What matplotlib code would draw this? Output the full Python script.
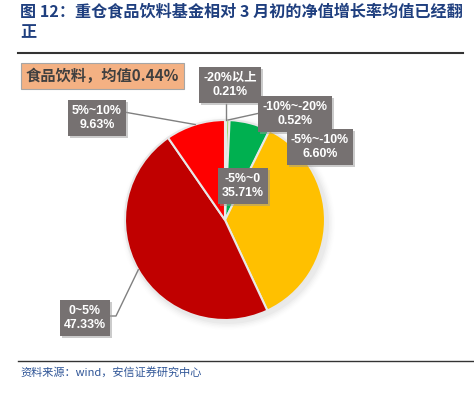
import matplotlib
matplotlib.use("Agg")
import matplotlib.pyplot as plt
import matplotlib.patheffects as pe
import numpy as np

plt.rcParams['font.family'] = ['Noto Sans CJK SC', 'DejaVu Sans']

# ---- data ----
categories = ["-20%以上", "-10%~-20%", "-5%~-10%", "-5%~0", "0~5%", "5%~10%"]
shares = [0.21, 0.52, 6.60, 35.71, 47.33, 9.63]
colors = ["#8497B0", "#92D050", "#00B050", "#FFC000", "#C00000", "#FF0000"]
title = "图 12：重仓食品饮料基金相对 3 月初的净值增长率均值已经翻\n正"
summary = "食品饮料，均值0.44%"
source = "资料来源：wind，安信证券研究中心"

W, H = 474, 396
fig = plt.figure(figsize=(W / 100, H / 100), dpi=100)
ax = fig.add_axes([0, 0, 1, 1])

def Y(ypx):
    return H - ypx

cx, cy, R = 225, Y(220), 100

# soft shadow
for i, a in enumerate(np.linspace(0.05, 0.01, 5)):
    ax.add_patch(plt.Circle((cx + 3, cy - 3), R + 1 + i * 1.5, color='#808080', alpha=a, lw=0, zorder=1))

wedges, _ = ax.pie(shares, colors=colors, startangle=90, counterclock=False,
                   center=(cx, cy), radius=R, frame=True,
                   wedgeprops=dict(edgecolor='#E8E8E8', linewidth=1.5))
for w in wedges:
    w.set_zorder(2)
ax.set_xlim(0, W)
ax.set_ylim(0, H)
ax.set_aspect('equal')
ax.axis('off')

# label box positions (pixel centers)
box_pos = {
    "-20%以上": (230, 85),
    "-10%~-20%": (295, 114),
    "-5%~-10%": (320, 147),
    "-5%~0": (243, 186),
    "0~5%": (85, 318),
    "5%~10%": (97, 118),
}
leader = {"-20%以上": 'v', "-10%~-20%": 'l', "5%~10%": 'r', "0~5%": 'r'}

cum = np.cumsum([0] + shares)
for i, (cat, val) in enumerate(zip(categories, shares)):
    mid = (cum[i] + val / 2) / 100 * 360
    ex = cx + R * np.sin(np.radians(mid))
    ey = cy + R * np.cos(np.radians(mid))
    bx, by = box_pos[cat]
    t = ax.text(bx, Y(by), f"{cat}\n{val:.2f}%", ha='center', va='center',
                color='white', fontsize=8.9, fontweight='bold', linespacing=1.3,
                family=['Liberation Sans', 'Noto Sans CJK SC'], zorder=6,
                bbox=dict(boxstyle='square,pad=0.35', fc='#767171', ec='none'))
    t.get_bbox_patch().set_path_effects([pe.SimplePatchShadow(offset=(1.5, -1.5), shadow_rgbFace='#999999', alpha=0.5), pe.Normal()])
    if cat in leader:
        kind = leader[cat]
        if kind == 'v':
            xs, ys = [ex, ex], [Y(104), ey]
        elif kind == 'l':
            xs, ys = [260, ex], [Y(113), ey]
        elif cat == "5%~10%":
            xs, ys = [124, ex], [Y(112), ey]
        else:
            xs, ys = [110, 116, ex], [Y(316), Y(316), ey]
        ax.plot(xs, ys, color='#808080', lw=1, zorder=5)

# summary box
ax.text(26, Y(76), summary, ha='left', va='center', fontsize=11, color='#404040',
        fontweight='bold', zorder=6,
        bbox=dict(boxstyle='square,pad=0.3', fc='#F4B183', ec='#A6A6A6', lw=0.8))

# title
fig.text(20 / W, 1 - 3 / H, title, ha='left', va='top', fontsize=11.6, fontweight='bold',
         color='#1F3F7F', linespacing=1.4)
ax.plot([18, 463], [Y(53), Y(53)], color='#333333', lw=1.5, zorder=5)
ax.plot([18, 474], [Y(361), Y(361)], color='#333333', lw=1, zorder=5)
fig.text(20 / W, 1 - 372 / H, source, ha='left', va='center', fontsize=8, style='italic',
         color='#2F5597')

fig.savefig('out.png', dpi=100)
